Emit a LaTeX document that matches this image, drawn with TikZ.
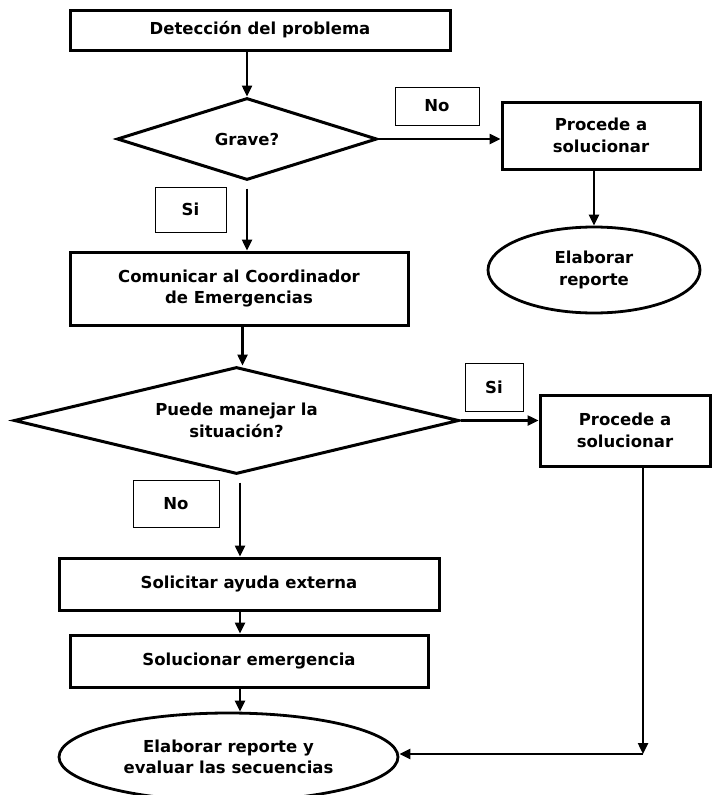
\documentclass[tikz,border=0pt]{standalone}
\usepackage{fontspec}
\setmainfont{DejaVu Sans}
\usetikzlibrary{shapes.geometric,arrows.meta,calc}
\tikzset{
  lbl/.style={font=\bfseries\fontsize{16.5}{21.5}\selectfont, align=center},
  stepbox/.style={lbl, draw, line width=3pt, inner sep=0pt},
  decis/.style={lbl, draw, diamond, line width=3pt, inner sep=0pt},
  endell/.style={lbl, draw, ellipse, line width=2.8pt, inner sep=0pt},
  tag/.style={lbl, draw, line width=0.9pt, inner sep=0pt},
  arr/.style={line width=2.4pt, -{Triangle[length=11pt,width=10pt]}}
}
\begin{document}
\begin{tikzpicture}[x=1pt,y=-1pt]
\useasboundingbox (0,0) rectangle (712,795);
\node[stepbox, minimum width=380, minimum height=40] (b1) at (260,30) {Detección del problema};
\node[decis, aspect=3.17, minimum width=260, minimum height=82] (d1) at (247,139) {Grave?};
\node[tag, minimum width=84, minimum height=38] (no1) at (437,106) {No};
\node[stepbox, minimum width=198, minimum height=67] (p1) at (601,135.5) {Procede a\\solucionar};
\node[endell, minimum width=212, minimum height=86] (e1) at (594,270) {Elaborar\\reporte};
\node[tag, minimum width=71, minimum height=45] (si1) at (190.5,209.5) {Si};
\node[stepbox, minimum width=338, minimum height=73] (b2) at (239,288.5) {Comunicar al Coordinador\\de Emergencias};
\node[decis, aspect=4.16, minimum width=445, minimum height=107] (d2) at (236.5,420.5) {Puede manejar la\\situación?};
\node[tag, minimum width=58, minimum height=48] (si2) at (494,387) {Si};
\node[stepbox, minimum width=170, minimum height=71] (p2) at (625,430.5) {Procede a\\solucionar};
\node[tag, minimum width=86, minimum height=47] (no2) at (176,503.5) {No};
\node[stepbox, minimum width=380, minimum height=52] (b3) at (249,584) {Solicitar ayuda externa};
\node[stepbox, minimum width=358, minimum height=52] (b4) at (249,661) {Solucionar emergencia};
\node[endell, minimum width=339, minimum height=88] (e2) at (228.5,757) {Elaborar reporte y\\evaluar las secuencias};
\coordinate (c1) at (643,754);
\coordinate (s1) at ($(d1.south)+(0,7)$);
\coordinate (s2) at ($(d2.south)+(3.5,7)$);
\coordinate (t2) at ($(d2.north)+(6,0)$);

\draw[arr] (d1.north |- b1.south) -- (d1.north);
\draw[arr] (d1.east) -- (d1.east -| p1.west);
\draw[arr] (e1.north |- p1.south) -- (e1.north);
\draw[arr] (s1) -- (s1 |- b2.north);
\draw[arr] (t2 |- b2.south) -- (t2);
\draw[arr] (d2.east) -- (d2.east -| p2.west);
\draw[arr] (s2) -- (s2 |- b3.north);
\draw[arr] (s2 |- b3.south) -- (s2 |- b4.north);
\draw[arr] (s2 |- b4.south) -- (s2 |- e2.north);
\draw[arr] (c1 |- p2.south) -- (c1);
\draw[arr] (c1) -- (c1 -| e2.east);
\end{tikzpicture}
\end{document}
